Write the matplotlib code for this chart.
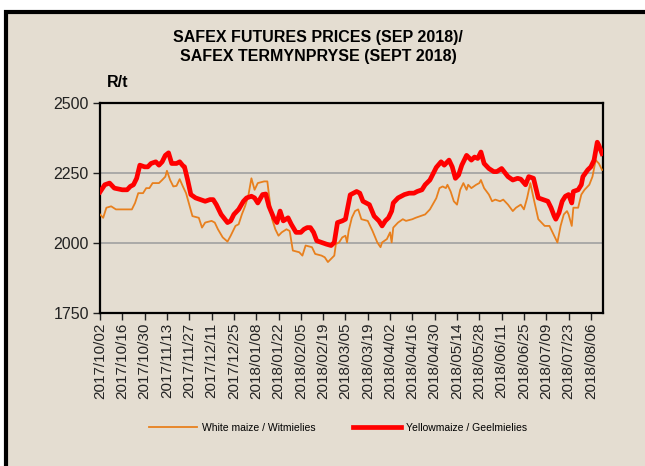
import numpy as np
import pandas as pd
import matplotlib
matplotlib.use("Agg")
import matplotlib.pyplot as plt
from matplotlib.patches import Rectangle

# ---------------- data ----------------
start_date = "2017-10-02"

yellow_days = [0, 3, 6, 9, 14, 17, 19, 21, 23, 25, 28, 30, 32, 35, 37, 39, 41, 43, 45, 48,
               50, 52, 53, 55, 57, 60, 63, 66, 69, 71, 73, 76, 80, 82, 84, 87, 90, 92, 95, 97,
               99, 102, 104, 106, 109, 111, 113, 115, 118, 120, 123, 126, 128, 130, 132, 134,
               136, 139, 142, 145, 147, 149, 152, 154, 157, 161, 163, 165, 169, 172, 175, 177,
               179, 181, 183, 184, 187, 191, 194, 197, 199, 202, 204, 207, 211, 214, 216, 219,
               221, 223, 225, 227, 230, 233, 235, 237, 239, 241, 244, 247, 249, 252, 256, 259,
               262, 264, 267, 269, 272, 275, 278, 281, 283, 285, 286, 288, 290, 292, 294, 296,
               297, 300, 302, 303, 306, 308, 310, 312, 313, 315]
yellow_maize = [2182, 2208, 2214, 2196, 2190, 2190, 2202, 2208, 2231, 2278, 2272, 2272, 2284, 2290,
                2278, 2290, 2313, 2322, 2284, 2284, 2290, 2276, 2272, 2225, 2173, 2161, 2155, 2149,
                2155, 2155, 2137, 2102, 2073, 2079, 2102, 2120, 2149, 2161, 2167, 2161, 2143, 2173,
                2175, 2131, 2090, 2073, 2114, 2079, 2090, 2067, 2038, 2038, 2049, 2055, 2055, 2038,
                2008, 2002, 1996, 1991, 2002, 2073, 2079, 2085, 2172, 2184, 2178, 2149, 2137, 2096,
                2079, 2061, 2079, 2090, 2114, 2143, 2161, 2173, 2178, 2178, 2184, 2190, 2208, 2225,
                2270, 2290, 2278, 2296, 2272, 2231, 2243, 2278, 2313, 2296, 2307, 2302, 2325, 2284,
                2266, 2255, 2255, 2266, 2237, 2225, 2231, 2228, 2208, 2237, 2231, 2161, 2155, 2149,
                2126, 2096, 2085, 2108, 2149, 2167, 2173, 2143, 2184, 2190, 2208, 2237, 2261, 2272,
                2296, 2360, 2349, 2319]

white_days = [0, 2, 4, 7, 10, 20, 22, 24, 27, 29, 31, 33, 37, 39, 41, 42, 44, 46, 48, 50,
              52, 54, 58, 62, 64, 66, 70, 72, 74, 77, 80, 82, 85, 87, 89, 91, 93, 95, 97, 99,
              103, 105, 106, 108, 110, 112, 114, 117, 119, 121, 125, 127, 129, 133, 135, 139,
              141, 143, 147, 148, 150, 152, 154, 155, 156, 158, 160, 162, 164, 168, 171, 174,
              176, 177, 180, 182, 183, 184, 187, 190, 192, 196, 198, 201, 204, 207, 211, 213,
              215, 217, 218, 220, 222, 224, 226, 228, 230, 231, 233, 236, 238, 239, 241, 244,
              246, 248, 251, 253, 256, 259, 261, 264, 266, 268, 270, 272, 275, 279, 282, 285,
              287, 289, 291, 293, 294, 296, 297, 300, 302, 304, 307, 309, 311, 313, 315]
white_maize = [2102, 2090, 2126, 2131, 2120, 2120, 2143, 2178, 2178, 2196, 2196, 2214, 2214, 2225,
               2237, 2258, 2225, 2202, 2204, 2228, 2202, 2178, 2096, 2090, 2055, 2073, 2079, 2073,
               2049, 2020, 2005, 2026, 2061, 2067, 2102, 2131, 2167, 2231, 2190, 2214, 2220, 2220,
               2173, 2085, 2049, 2026, 2038, 2049, 2043, 1973, 1967, 1955, 1991, 1985, 1961, 1955,
               1949, 1932, 1955, 1996, 2002, 2020, 2026, 2002, 2043, 2090, 2114, 2120, 2085, 2079,
               2043, 2002, 1985, 2002, 2014, 2038, 2002, 2055, 2073, 2085, 2079, 2085, 2090, 2096,
               2102, 2120, 2160, 2196, 2202, 2196, 2208, 2184, 2149, 2137, 2190, 2214, 2190, 2208,
               2196, 2208, 2214, 2225, 2196, 2173, 2149, 2155, 2149, 2155, 2137, 2114, 2126, 2137,
               2120, 2161, 2214, 2161, 2085, 2061, 2061, 2026, 2002, 2061, 2102, 2114, 2102, 2061,
               2126, 2126, 2173, 2190, 2208, 2237, 2296, 2284, 2261]

tick_labels = ["2017/10/02", "2017/10/16", "2017/10/30", "2017/11/13", "2017/11/27",
               "2017/12/11", "2017/12/25", "2018/01/08", "2018/01/22", "2018/02/05",
               "2018/02/19", "2018/03/05", "2018/03/19", "2018/04/02", "2018/04/16",
               "2018/04/30", "2018/05/14", "2018/05/28", "2018/06/11", "2018/06/25",
               "2018/07/09", "2018/07/23", "2018/08/06"]
y_ticks = [1750, 2000, 2250, 2500]
end_day = 315.6

title = "SAFEX FUTURES PRICES (SEP 2018)/\nSAFEX TERMYNPRYSE (SEPT 2018)"
y_unit = "R/t"
white_label = "White maize / Witmielies"
yellow_label = "Yellowmaize / Geelmielies"

# ---------------- plot ----------------
plt.rcParams['font.family'] = ['Liberation Sans', 'DejaVu Sans']

W, H = 645, 466
fig = plt.figure(figsize=(W / 100, H / 100), dpi=100)
fig.patch.set_facecolor("white")

bg = "#e4ddd1"
frame = Rectangle((6 / W, -0.05), 1.2, 1 - 12 / H + 0.05, transform=fig.transFigure,
                  facecolor=bg, edgecolor="black", linewidth=3, zorder=-10)
fig.patches.append(frame)

ax = fig.add_axes([100 / W, 1 - 313 / H, 503 / W, 210 / H])
ax.set_facecolor(bg)
ax.set_zorder(1)

t0 = pd.Timestamp(start_date)
yx = t0 + pd.to_timedelta(yellow_days, unit="D")
wx = t0 + pd.to_timedelta(white_days, unit="D")

ax.plot(wx, white_maize, color="#e8801e", lw=1.3, label=white_label, zorder=3)
ax.plot(yx, yellow_maize, color="#ff0000", lw=3.4, label=yellow_label, zorder=4,
        solid_joinstyle="round")

ax.set_ylim(y_ticks[0], y_ticks[-1])
ax.set_yticks(y_ticks)
ax.set_xlim(t0, t0 + pd.Timedelta(days=end_day))
tick_pos = pd.to_datetime(tick_labels, format="%Y/%m/%d")
ax.set_xticks(tick_pos)
ax.set_xticklabels(tick_labels, rotation=90, fontsize=11)
ax.tick_params(axis="y", labelsize=11.5, direction="out", length=5, width=1, pad=3,
               colors="#222222")
ax.tick_params(axis="x", direction="out", length=5, width=1, pad=2, colors="#222222")

for v in y_ticks[1:-1]:
    ax.axhline(v, color="#a0a0a0", lw=1.2, zorder=1)

for s in ax.spines.values():
    s.set_color("black")
    s.set_linewidth(1.6)

fig.text(318 / W, 1 - 47 / H, title, ha="center", va="center", fontsize=11.5,
         fontweight="bold", linespacing=1.35)
fig.text(107 / W, 1 - 83 / H, y_unit, ha="left", va="center", fontsize=11.5,
         fontweight="bold")

fig.legend(loc="center", bbox_to_anchor=(338 / W, 1 - 428 / H), ncol=2, frameon=False,
           fontsize=7.5, handlelength=4.6, handletextpad=0.5, columnspacing=3.6)

fig.savefig("out.png", dpi=100, facecolor=fig.get_facecolor())
